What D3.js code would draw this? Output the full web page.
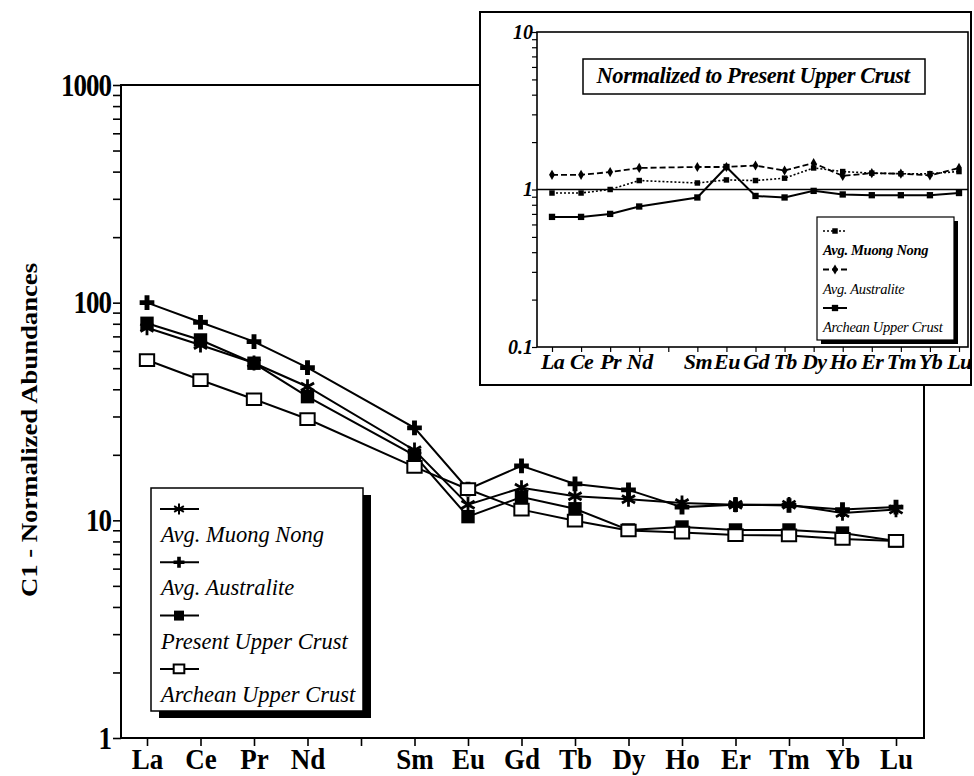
<!DOCTYPE html>
<html>
<head>
<meta charset="utf-8">
<script src="https://cdn.jsdelivr.net/npm/d3@7"></script>
<style>
body { margin: 0; background: #fff; }
svg { display: block; }
text { font-family: 'Liberation Serif', 'Times New Roman', serif; fill: #000; }
</style>
</head>
<body>
<svg id="chart" width="974" height="776"></svg>
<script>
// rare earth elements (Pm slot is kept empty, as in the figure)
var elements = ['La', 'Ce', 'Pr', 'Nd', 'Pm', 'Sm', 'Eu', 'Gd', 'Tb', 'Dy', 'Ho', 'Er', 'Tm', 'Yb', 'Lu'];
var tickLabels = ['La', 'Ce', 'Pr', 'Nd', '', 'Sm', 'Eu', 'Gd', 'Tb', 'Dy', 'Ho', 'Er', 'Tm', 'Yb', 'Lu'];
var plotted = ['La', 'Ce', 'Pr', 'Nd', 'Sm', 'Eu', 'Gd', 'Tb', 'Dy', 'Ho', 'Er', 'Tm', 'Yb', 'Lu'];

// C1-normalized abundances
var muongNong = [76.7, 63.9, 52.8, 41.1, 21.0, 11.8, 14.1, 12.9, 12.5, 12.0, 11.8, 11.8, 10.8, 11.2];
var australite = [100, 81.3, 66.2, 50.3, 26.6, 13.9, 17.8, 14.7, 13.8, 11.5, 11.8, 11.7, 11.2, 11.5];
var presentCrust = [80.4, 67.4, 52.7, 37.0, 19.9, 10.4, 12.8, 11.3, 9.03, 9.32, 9.03, 9.03, 8.74, 8.04];
var archeanCrust = [54.5, 44.1, 36.0, 29.2, 17.6, 13.9, 11.2, 9.96, 8.98, 8.79, 8.56, 8.52, 8.21, 8.04];

// normalized to present upper crust (inset)
var insetMuong = [0.95, 0.95, 1.0, 1.14, 1.10, 1.15, 1.14, 1.18, 1.37, 1.30, 1.27, 1.26, 1.26, 1.30];
var insetAustralite = [1.24, 1.24, 1.29, 1.37, 1.39, 1.39, 1.42, 1.32, 1.47, 1.22, 1.27, 1.26, 1.23, 1.37];
var insetArchean = [0.67, 0.67, 0.70, 0.78, 0.89, 1.39, 0.91, 0.89, 0.98, 0.93, 0.92, 0.92, 0.92, 0.95];

var yTickLabels = [1, 10, 100, 1000];
var insetYTickLabels = [0.1, 1, 10];
var legendLabels = ['Avg. Muong Nong', 'Avg. Australite', 'Present Upper Crust', 'Archean Upper Crust'];
var insetLegendLabels = ['Avg. Muong Nong', 'Avg. Australite', 'Archean Upper Crust'];
var insetTitle = 'Normalized to Present Upper Crust';
var yTitle = 'C1 - Normalized Abundances';

var svg = d3.select('#chart');
var stretch = 1.16; // the scan is a bit taller than wide

// custom marker shapes
var asterisk = {
    draw: function(ctx, size) {
        var r = Math.sqrt(size) / 2;
        for (var a = 0; a < 3; a++) {
            var t = Math.PI / 2 + a * Math.PI / 3;
            ctx.moveTo(r * Math.cos(t), -r * Math.sin(t));
            ctx.lineTo(-r * Math.cos(t), r * Math.sin(t));
        }
    }
};
var wideRect = {
    draw: function(ctx, size) {
        var w = Math.sqrt(size) / 2 * 1.1, h = Math.sqrt(size) / 2 * 0.9;
        ctx.moveTo(-w, -h); ctx.lineTo(w, -h); ctx.lineTo(w, h); ctx.lineTo(-w, h); ctx.closePath();
    }
};

var series = [
    {name: legendLabels[0], values: muongNong, type: asterisk, size: 230, fill: 'none', stroke: 2.8},
    {name: legendLabels[1], values: australite, type: d3.symbolCross, size: 120, fill: '#000', stroke: 0},
    {name: legendLabels[2], values: presentCrust, type: d3.symbolSquare, size: 180, fill: '#000', stroke: 0},
    {name: legendLabels[3], values: archeanCrust, type: wideRect, size: 170, fill: '#fff', stroke: 2}
];

// ---------- main chart ----------
var main = {left: 121, right: 924, top: 85, bottom: 738};
var x = d3.scalePoint().domain(elements).range([147, 896]);
var y = d3.scaleLog().domain([1, 1000]).range([main.bottom, main.top]);

svg.append('rect')
    .attr('x', main.left).attr('y', main.top)
    .attr('width', main.right - main.left).attr('height', main.bottom - main.top)
    .style('fill', 'none').style('stroke', '#000').style('stroke-width', 2);

var yAxis = svg.append('g')
    .attr('transform', 'translate(' + main.left + ',0)')
    .call(d3.axisLeft(y).tickValues(y.ticks()).tickSize(8).tickSizeOuter(0)
        .tickFormat(function(d) { return yTickLabels.indexOf(d) >= 0 ? d : ''; }));
yAxis.select('.domain').remove();
yAxis.selectAll('line').style('stroke-width', 1.6);
yAxis.selectAll('text')
    .attr('x', 0).attr('dy', null)
    .attr('transform', 'translate(-10,10) scale(1,' + stretch + ')')
    .style('font-family', "'Liberation Serif', serif")
    .style('font-weight', 'bold').style('font-size', '27px').style('letter-spacing', '-1px');

var xAxis = svg.append('g')
    .attr('transform', 'translate(0,' + main.bottom + ')')
    .call(d3.axisBottom(x).tickSize(8).tickSizeOuter(0)
        .tickFormat(function(d, i) { return tickLabels[i]; }));
xAxis.select('.domain').remove();
xAxis.selectAll('line').style('stroke-width', 1.6);
xAxis.selectAll('text')
    .attr('y', 0).attr('dy', null)
    .attr('transform', 'translate(0,31) scale(1,1.1)')
    .style('font-family', "'Liberation Serif', serif")
    .style('font-weight', 'bold').style('font-size', '27px');

svg.append('text')
    .attr('transform', 'translate(37,430) rotate(-90) scale(' + stretch + ',1)')
    .attr('text-anchor', 'middle')
    .style('font-weight', 'bold').style('font-size', '23px')
    .text(yTitle);

var line = d3.line()
    .x(function(d) { return x(d.el); })
    .y(function(d) { return y(d.v); });

function pairs(values) {
    return values.map(function(v, i) { return {el: plotted[i], v: v}; });
}

series.forEach(function(s) {
    svg.append('path')
        .attr('d', line(pairs(s.values)))
        .style('fill', 'none').style('stroke', '#000').style('stroke-width', 2);
});

function drawMarker(g, s, cx, cy) {
    g.append('path')
        .attr('d', d3.symbol().type(s.type).size(s.size)())
        .attr('transform', 'translate(' + cx + ',' + cy + ')')
        .style('fill', s.fill)
        .style('stroke', '#000')
        .style('stroke-width', s.stroke);
}

series.forEach(function(s) {
    var g = svg.append('g');
    pairs(s.values).forEach(function(d) { drawMarker(g, s, x(d.el), y(d.v)); });
});

// main legend
var leg = {x: 151, y: 488, w: 212, h: 223};
svg.append('rect')
    .attr('x', leg.x + 8).attr('y', leg.y + 7).attr('width', leg.w).attr('height', leg.h)
    .style('fill', '#000');
svg.append('rect')
    .attr('x', leg.x).attr('y', leg.y).attr('width', leg.w).attr('height', leg.h)
    .style('fill', '#fff').style('stroke', '#000').style('stroke-width', 1.5);

series.forEach(function(s, i) {
    var ly = leg.y + 21 + i * 53.3;
    var g = svg.append('g');
    g.append('line')
        .attr('x1', leg.x + 9).attr('x2', leg.x + 48).attr('y1', ly).attr('y2', ly)
        .style('stroke', '#000').style('stroke-width', 2);
    drawMarker(g, {type: s.type, size: s.size * 0.55, fill: s.fill, stroke: s.stroke ? 2 : 0}, leg.x + 28, ly);
    g.append('text')
        .attr('x', leg.x + 10).attr('y', ly + 33)
        .style('font-style', 'italic').style('font-size', '22.5px')
        .text(s.name);
});

// ---------- inset ----------
var box = {left: 480, top: 12, right: 971, bottom: 385};
var ins = {left: 537, top: 32, right: 968, bottom: 347};

svg.append('rect')
    .attr('x', box.left).attr('y', box.top)
    .attr('width', box.right - box.left).attr('height', box.bottom - box.top)
    .style('fill', '#fff').style('stroke', '#000').style('stroke-width', 2);

var ix = d3.scalePoint().domain(elements).range([552, 959]);
var iy = d3.scaleLog().domain([0.1, 10]).range([ins.bottom, ins.top]);

svg.append('rect')
    .attr('x', ins.left).attr('y', ins.top)
    .attr('width', ins.right - ins.left).attr('height', ins.bottom - ins.top)
    .style('fill', 'none').style('stroke', '#000').style('stroke-width', 1.6);

var iyAxis = svg.append('g')
    .attr('transform', 'translate(' + ins.left + ',0)')
    .call(d3.axisLeft(iy).tickValues(iy.ticks()).tickSize(5).tickSizeOuter(0)
        .tickFormat(function(d) { return insetYTickLabels.indexOf(d) >= 0 ? d : ''; }));
iyAxis.select('.domain').remove();
iyAxis.selectAll('line').style('stroke-width', 1.2);
iyAxis.selectAll('text')
    .attr('x', -4).attr('dy', '0.3em')
    .style('font-family', "'Liberation Serif', serif")
    .style('font-weight', 'bold').style('font-style', 'italic').style('font-size', '20px');

var ixAxis = svg.append('g')
    .attr('transform', 'translate(0,' + ins.bottom + ')')
    .call(d3.axisBottom(ix).tickSize(5).tickSizeOuter(0)
        .tickFormat(function(d, i) { return tickLabels[i]; }));
ixAxis.select('.domain').remove();
ixAxis.selectAll('line').style('stroke-width', 1.2);
ixAxis.selectAll('text')
    .attr('y', 22).attr('dy', null)
    .style('font-family', "'Liberation Serif', serif")
    .style('font-weight', 'bold').style('font-style', 'italic').style('font-size', '22px')
    .style('letter-spacing', '-0.6px');

// reference line at 1
svg.append('line')
    .attr('x1', ins.left).attr('x2', ins.right).attr('y1', iy(1)).attr('y2', iy(1))
    .style('stroke', '#000').style('stroke-width', 1.5);

// title box
svg.append('rect')
    .attr('x', 583).attr('y', 59).attr('width', 342).attr('height', 35)
    .style('fill', '#fff').style('stroke', '#000').style('stroke-width', 1.5);
svg.append('text')
    .attr('x', 753).attr('y', 83).attr('text-anchor', 'middle')
    .style('font-weight', 'bold').style('font-style', 'italic').style('font-size', '22.5px')
    .style('letter-spacing', '-0.4px')
    .text(insetTitle);

var insetSeries = [
    {name: insetLegendLabels[0], values: insetMuong, dash: '2,2', width: 1.6, type: d3.symbolSquare, size: 30},
    {name: insetLegendLabels[1], values: insetAustralite, dash: '6,3', width: 1.8, type: d3.symbolDiamond, size: 30},
    {name: insetLegendLabels[2], values: insetArchean, dash: null, width: 2, type: d3.symbolSquare, size: 40}
];

var iline = d3.line()
    .x(function(d) { return ix(d.el); })
    .y(function(d) { return iy(d.v); });

insetSeries.forEach(function(s) {
    svg.append('path')
        .attr('d', iline(pairs(s.values)))
        .style('fill', 'none').style('stroke', '#000')
        .style('stroke-width', s.width)
        .style('stroke-dasharray', s.dash);
    svg.append('g').selectAll('path')
        .data(pairs(s.values))
        .join('path')
        .attr('d', d3.symbol().type(s.type).size(s.size)())
        .attr('transform', function(d) { return 'translate(' + ix(d.el) + ',' + iy(d.v) + ')'; })
        .style('fill', '#000');
});

// inset legend
var ileg = {x: 817, y: 217, w: 137, h: 123};
svg.append('rect')
    .attr('x', ileg.x + 4).attr('y', ileg.y + 4).attr('width', ileg.w).attr('height', ileg.h)
    .style('fill', '#000');
svg.append('rect')
    .attr('x', ileg.x).attr('y', ileg.y).attr('width', ileg.w).attr('height', ileg.h)
    .style('fill', '#fff').style('stroke', '#000').style('stroke-width', 1.2);

insetSeries.forEach(function(s, i) {
    var ly = ileg.y + 14 + i * 38.5;
    svg.append('line')
        .attr('x1', ileg.x + 6).attr('x2', ileg.x + 30).attr('y1', ly).attr('y2', ly)
        .style('stroke', '#000').style('stroke-width', s.width)
        .style('stroke-dasharray', s.dash);
    svg.append('path')
        .attr('d', d3.symbol().type(s.type).size(s.size)())
        .attr('transform', 'translate(' + (ileg.x + 18) + ',' + ly + ')')
        .style('fill', '#000');
    svg.append('text')
        .attr('x', ileg.x + 6).attr('y', ly + 24)
        .style('font-style', 'italic').style('font-size', '14.5px')
        .style('font-weight', i === 0 ? 'bold' : 'normal')
        .style('letter-spacing', '-0.3px')
        .text(s.name);
});
</script>
</body>
</html>
